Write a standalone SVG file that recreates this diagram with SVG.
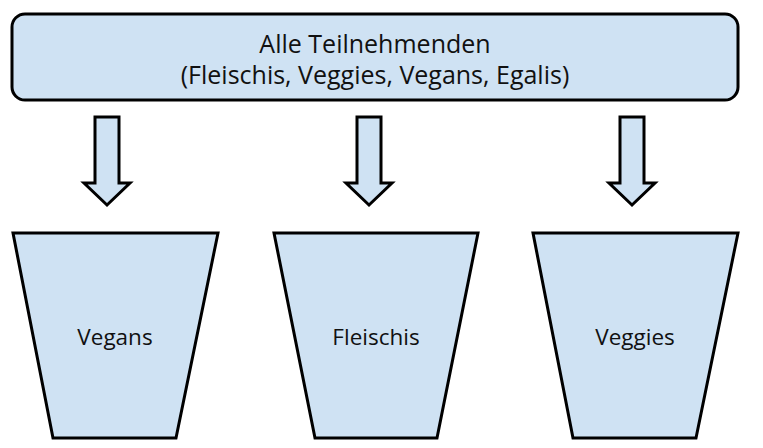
<svg xmlns="http://www.w3.org/2000/svg" width="763" height="448" viewBox="0 0 763 448">
<style>
.shape{fill:#cfe2f3;stroke:#000;stroke-width:3;stroke-linejoin:miter}
.t{font-family:"Open Sans","Liberation Sans",sans-serif;fill:#111;text-anchor:middle}
.big{font-size:25px}
.lbl{font-size:22.5px}
</style>
<defs>
<path id="arr" d="M-12,0 H12 V66 H23 L0,88 L-23,66 H-12 Z"/>
</defs>
<g id="alle">
<rect class="shape" x="12" y="14" width="726" height="86" rx="13"/>
<text class="t big" x="375" y="53">Alle Teilnehmenden</text>
<text class="t big" x="375" y="84">(Fleischis, Veggies, Vegans, Egalis)</text>
</g>
<g id="connectors">
<use href="#arr" class="shape" x="107" y="117"/>
<use href="#arr" class="shape" x="369" y="117"/>
<use href="#arr" class="shape" x="632" y="117"/>
</g>
<g id="vegans">
<polygon class="shape" points="13,233 218,233 176,438 53,438"/>
<text class="t lbl" x="115" y="345">Vegans</text>
</g>
<g id="fleischis">
<polygon class="shape" points="274,233 478,233 437,438 315,438"/>
<text class="t lbl" x="376" y="345">Fleischis</text>
</g>
<g id="veggies">
<polygon class="shape" points="533,233 738,233 696,438 573,438"/>
<text class="t lbl" x="635" y="345">Veggies</text>
</g>
</svg>
